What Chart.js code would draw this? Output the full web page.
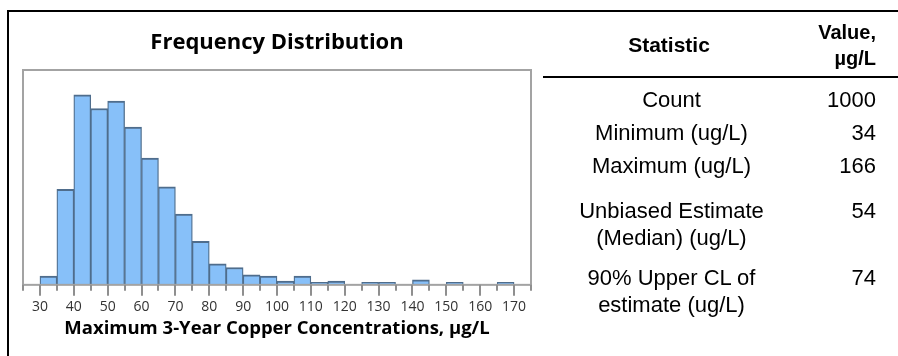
<!DOCTYPE html>
<html>
<head>
<meta charset="utf-8">
<script src="https://cdn.jsdelivr.net/npm/chart.js@4.4.1/dist/chart.umd.min.js"></script>
<style>
  html, body { margin: 0; padding: 0; background: #fff; }
  body { width: 898px; height: 356px; position: relative; overflow: hidden; }
  #frame {
    position: absolute; left: 7px; top: 10px; width: 900px; height: 360px;
    border-left: 2px solid #000; border-top: 2px solid #000;
  }
  #chartBox { position: absolute; left: 0; top: 0; width: 545px; height: 356px; }
  #stats {
    position: absolute; left: 543px; top: 12px; width: 355px;
    font-family: "Liberation Sans", Arial, sans-serif; color: #000;
  }
  #stats .head {
    height: 64px; border-bottom: 2px solid #000; position: relative;
    font-weight: bold; font-size: 20px;
  }
  #stats .head .name { position: absolute; left: 0; width: 252px; top: 21px; text-align: center; line-height: 24px; font-size: 21px; }
  #stats .head .val { position: absolute; right: 22px; top: 7px; text-align: right; line-height: 26px; }
  #stats .rows { display: grid; grid-template-columns: 257px 76px; grid-template-rows: 33px 33px 45px 67px auto; font-size: 22px; }
  #stats .cell { padding-top: 8px; line-height: 27px; }
  #stats .label { text-align: center; }
  #stats .num { text-align: right; }
</style>
</head>
<body>
<div id="frame"></div>
<div id="chartBox"><canvas id="hist"></canvas></div>
<div id="stats">
  <div class="head"><div class="name" id="hName"></div><div class="val" id="hVal"></div></div>
  <div class="rows" id="statRows"></div>
</div>
<script>
// Histogram bins (lower edge of each 5 µg/L bin) and the number of results in each
const binLower = [30, 35, 40, 45, 50, 55, 60, 65, 70, 75, 80, 85, 90, 95,
                  100, 105, 110, 115, 120, 125, 130, 135, 140, 145, 150, 155, 160, 165];
const binCounts = [7, 77, 153, 142, 148, 127, 102, 79, 57, 35, 17, 14, 8, 7,
                   3, 7, 2, 3, 0, 2, 2, 0, 4, 0, 2, 0, 0, 2];
// Labelled x-axis values
const labelledTicks = [30, 40, 50, 60, 70, 80, 90, 100, 110, 120, 130, 140, 150, 160, 170];

const chartTitle = 'Frequency Distribution';
const axisTitle = 'Maximum 3-Year Copper Concentrations, µg/L';

// Summary statistics table
const statHeader = ['Statistic', ['Value,', 'µg/L']];
const statNames = [
  ['Count'],
  ['Minimum (ug/L)'],
  ['Maximum (ug/L)'],
  ['Unbiased Estimate', '(Median) (ug/L)'],
  ['90% Upper CL of', 'estimate (ug/L)']
];
const statValues = ['1000', '34', '166', '54', '74'];

// ---- table ----
document.getElementById('hName').textContent = statHeader[0];
document.getElementById('hVal').innerHTML = statHeader[1].join('<br>');
const rowsEl = document.getElementById('statRows');
statNames.forEach((lines, i) => {
  const l = document.createElement('div');
  l.className = 'cell label';
  l.innerHTML = lines.join('<br>');
  const v = document.createElement('div');
  v.className = 'cell num';
  v.textContent = statValues[i];
  rowsEl.appendChild(l);
  rowsEl.appendChild(v);
});

// ---- chart ----
const binWidth = binLower[1] - binLower[0];
const histData = binLower.map((lo, i) => ({ x: lo + binWidth / 2, y: binCounts[i] }));

const FONT = '"Open Sans", "Noto Sans", sans-serif';

// Plot frame and the major/minor tick marks under the axis
const frameAndTicks = {
  id: 'frameAndTicks',
  afterDatasetsDraw(chart) {
    const { ctx, chartArea: a, scales: { x } } = chart;
    ctx.save();
    ctx.strokeStyle = '#a3a3a3';
    ctx.lineWidth = 2;
    ctx.strokeRect(a.left, a.top, a.right - a.left, a.bottom - a.top);
    ctx.strokeStyle = '#8f8f8f';
    x.ticks.forEach(t => {
      const px = Math.round(x.getPixelForValue(t.value));
      const major = labelledTicks.includes(t.value);
      ctx.beginPath();
      ctx.moveTo(px, a.bottom);
      ctx.lineTo(px, a.bottom + (major ? 11 : 6));
      ctx.stroke();
    });
    ctx.restore();
  }
};

new Chart(document.getElementById('hist'), {
  type: 'bar',
  data: {
    datasets: [{
      data: histData,
      backgroundColor: '#87c0f9',
      borderColor: '#4f6d8c',
      borderWidth: { top: 2, left: 1.3, right: 1.3, bottom: 0 },
      borderSkipped: false,
      barPercentage: 1,
      categoryPercentage: 1
    }]
  },
  options: {
    responsive: true,
    maintainAspectRatio: false,
    animation: false,
    devicePixelRatio: 1,
    layout: { padding: { left: 23, right: 14, top: 0, bottom: 17 } },
    plugins: {
      legend: { display: false },
      tooltip: { enabled: false },
      title: {
        display: true,
        text: chartTitle,
        fullSize: false,
        color: '#000',
        font: { family: FONT, size: 22, weight: 'bold' },
        padding: { top: 30, bottom: 13.6 }
      }
    },
    scales: {
      x: {
        type: 'linear',
        min: 25,
        max: 175,
        offset: false,
        grid: { display: false, drawTicks: true, tickLength: 11 },
        border: { display: false },
        ticks: {
          stepSize: 5,
          autoSkip: false,
          maxRotation: 0,
          includeBounds: true,
          padding: 3,
          color: '#333',
          font: { family: FONT, size: 14 },
          callback: v => (labelledTicks.includes(v) ? String(v) : '')
        },
        title: {
          display: true,
          text: axisTitle,
          color: '#000',
          font: { family: FONT, size: 18.5, weight: 'bold', lineHeight: 1.1 },
          padding: { top: 0, bottom: 0 }
        }
      },
      y: { display: false, min: 0, max: 173 }
    }
  },
  plugins: [frameAndTicks]
});
</script>
</body>
</html>
